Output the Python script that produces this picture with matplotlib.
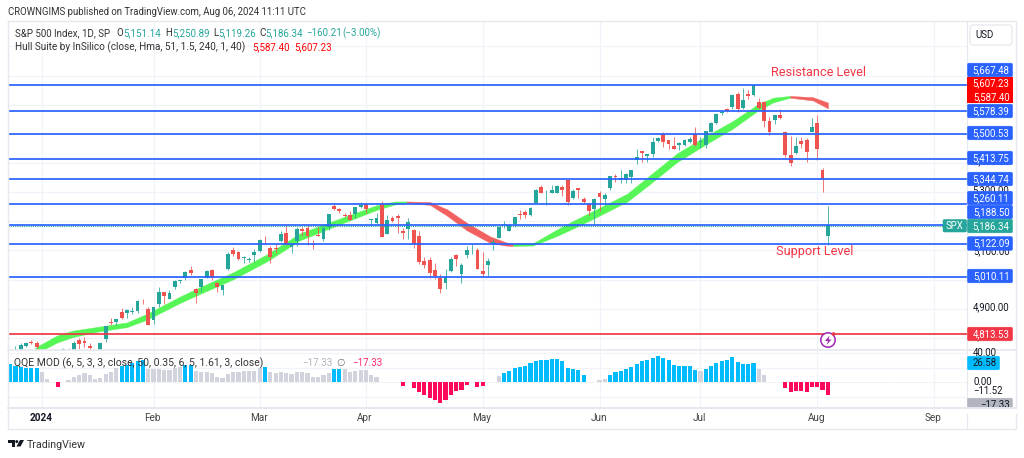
import matplotlib
matplotlib.use("Agg")
import matplotlib.pyplot as plt
from matplotlib.patches import Rectangle, FancyBboxPatch, Circle, Polygon

plt.rcParams['font.family'] = ['Roboto', 'DejaVu Sans']

# ---------- data ----------
opens = [4724,4753,4758,4773,4786,4782,
 4745,4726,4697,4690,4703,4741,4759,4792,4791,4772,4739,4760,4797,4853,4856,4888,4886,4888,4892,4925,4899,
 4861,4916,4957,4935,4973,4995,5004,5032,4968,4976,5006,5032,4989,4963,5038,5100,5093,5074,5067,5085,
 5098,5131,5110,5108,5132,5160,5111,5134,5174,5176,5123,5154,5140,5181,5253,5242,5220,5220,5226,5248,
 5258,5204,5194,5258,5158,5212,5217,5167,5172,5171,5150,5064,5068,5032,5006,4988,5028,5084,5019,5084,5114,5103,
 5029,5049,5122,5142,5187,5168,5189,5225,5233,5222,5263,5319,5303,5298,5298,5319,5340,5281,5315,5278,5259,5243,
 5297,5278,5314,5353,5343,5341,5353,5409,5441,5424,5431,5476,5499,5479,5459,5461,5460,5473,5499,
 5471,5461,5507,5537,5572,5584,5592,5636,5590,5638,5633,5610,5608,5544,5548,5565,5505,5429,5433,5476,5478,5505,
 5537,5376,5151.14]
highs = [4748,4772,4784,4785,4793,4788,
 4755,4729,4726,4721,4764,4765,4791,4798,4802,4782,4744,4785,4842,4868,4866,4903,4898,4906,4929,4932,4907,
 4907,4975,4957,4964,4999,5000,5030,5048,4971,5002,5033,5038,4993,4983,5094,5111,5098,5081,5077,5105,
 5140,5150,5114,5127,5165,5189,5125,5179,5179,5189,5136,5180,5180,5226,5261,5246,5229,5236,5249,5265,
 5264,5208,5229,5268,5222,5219,5224,5178,5211,5175,5168,5079,5077,5057,5020,5038,5078,5089,5057,5114,5123,5110,
 5096,5073,5139,5181,5200,5191,5215,5239,5238,5250,5311,5325,5306,5325,5324,5323,5342,5311,5315,5282,5260,5280,
 5303,5298,5354,5362,5375,5366,5376,5447,5442,5432,5488,5490,5506,5479,5490,5472,5483,5489,5524,
 5490,5510,5540,5570,5583,5590,5636,5642,5656,5650,5667.2,5622,5614,5557,5564,5586,5508,5491,5488,5488,5486,5554,
 5566,5383,5250.89]
lows = [4708,4736,4758,4768,4780,4751,
 4722,4699,4687,4683,4699,4730,4756,4739,4769,4740,4714,4740,4785,4844,4844,4865,4870,4881,4887,4917,4845,
 4847,4907,4918,4932,4969,4987,5000,5016,4920,4956,5006,4999,4956,4946,5033,5082,5068,5058,5059,5061,
 5094,5127,5057,5092,5128,5117,5092,5114,5151,5117,5104,5148,5131,5171,5240,5229,5216,5203,5213,5247,
 5229,5184,5190,5146,5157,5197,5160,5138,5138,5107,5052,5039,5007,5001,4954,4969,5027,5047,4990,5073,5089,5035,
 5013,5011,5101,5142,5178,5165,5180,5209,5211,5217,5263,5296,5256,5298,5297,5286,5257,5278,5280,5262,5222,5192,
 5234,5257,5306,5335,5331,5331,5331,5396,5403,5403,5420,5471,5455,5448,5447,5446,5459,5470,5459,
 5452,5453,5507,5532,5563,5574,5586,5574,5584,5618,5631,5584,5522,5497,5535,5551,5419,5390,5430,5451,5404,5505,
 5410,5302,5119.26]
closes = [4746.75,4754.63,4774.75,4781.58,4783.35,4769.83,
 4742.83,4704.81,4688.68,4697.24,4763.54,4756.50,4783.45,4780.24,4783.83,4765.98,4739.21,4780.94,4839.81,4850.43,4864.60,4868.55,4894.16,4890.97,4927.93,4924.97,4845.65,
 4906.19,4958.61,4942.81,4954.23,4995.06,4997.91,5026.61,5021.84,4953.17,5000.62,5029.73,5005.57,4975.51,4981.80,5087.03,5088.80,5069.53,5078.18,5069.76,5096.27,
 5137.08,5130.95,5078.65,5104.76,5157.36,5123.69,5117.94,5175.27,5165.31,5150.48,5117.09,5149.42,5178.51,5224.62,5241.53,5234.18,5218.19,5203.58,5248.49,5254.35,
 5243.77,5205.81,5211.49,5147.21,5204.34,5202.39,5209.91,5160.64,5199.06,5123.41,5061.82,5051.41,5022.21,5011.12,4967.23,5010.60,5070.55,5071.63,5048.42,5099.96,5116.17,5035.69,
 5018.39,5064.20,5127.79,5180.74,5187.70,5187.67,5214.08,5222.68,5221.42,5246.68,5308.15,5297.10,5303.27,5308.13,5321.41,5307.01,5267.84,5304.72,5306.04,5266.95,5235.48,5277.51,
 5283.40,5291.34,5354.03,5352.96,5346.99,5360.79,5375.32,5421.03,5433.74,5431.60,5473.23,5487.03,5473.17,5464.62,5447.87,5469.30,5477.90,5482.87,5460.48,
 5475.09,5509.01,5537.02,5567.19,5572.85,5576.98,5633.91,5584.54,5615.35,5631.22,5667.20,5588.27,5544.59,5505.00,5564.41,5555.74,5427.13,5399.22,5459.10,5463.54,5436.44,5522.30,
 5446.68,5346.56,5186.34]
first_bar = -6
assert len(opens) == len(highs) == len(lows) == len(closes) == 155

hull_idx = [-2,-0.75,2.8,5.8,10.9,16,19.8,26,29.2,36,42.4,48.6,56,63,66.5,68.7,
            73.1,76.3,80,84.4,87.2,88.7,
            92.5,97,100,105,110.2,114.5,119.6,125.2,130.1,134.7,137.7,140.9,
            145.2,148]
hull_mid = [4745,4761,4796,4814,4831,4845,4873,4931,4958,5013,5075,5147,5199,5247,5263,5266,
            5261,5230,5182,5137,5123,5118,
            5121,5161,5188,5233,5281,5343,5418,5480,5531,5589,5616,5627,
            5620,5597.3]
hull_half = [10,11,12,11,8,8,10,11,11.5,12,12,12,10,8,5,2,
             5,11,13,11,6,3,
             4,11,13,13.5,13.5,15,15,14,13,11,8,3,
             5.5,9.9]
hull_segments = [(0,15,'#55f655'),(15,21,'#f26060'),(21,33,'#55f655'),(33,35,'#f26060')]

blue_levels = [5667.48,5578.39,5500.53,5413.75,5344.74,5260.11,5188.50,5122.09,5010.11]
red_level = 4813.53
last_close = 5186.34
grid_prices = [4800,4900,5000,5100,5200,5300,5400,5500,5600,5700,5800]

month_idx = [0,21,41,61,83,105,124,146,168]
month_labels = ['2024','Feb','Mar','Apr','May','Jun','Jul','Aug','Sep']

qqe_values = [25,23,21.5,20,20,20,
 14.6,4.5,0,-6,0,3,7.5,10.5,12.4,10.5,5,6,11,14.6,19.7,
 23,24,27,28.9,30,
 18.8,18,18.3,17,17,19.7,21.5,24,24,
 16,14,14,12.4,7.8,6,11.5,14.6,14.6,15.6,15,16,19.7,21,
 14,13,14.6,12.4,11.5,13.7,13.7,12.4,7.3,7.8,9.6,13.3,18.8,18.8,
 18,14,15.6,17,17,10.5,7.8,0,0,0,0,
 -5,0,-8,-14,-18,-21,-24,-28,-25,-17,-11.5,-10.5,-3.7,0,-6,-4.6,0,0,
 8.7,12.4,15.6,19.2,21.5,22.4,26,29.8,30.7,30.7,31.6,32.5,29.3,20,18,17,10,0,0,
 3.2,5,10,14.6,15.6,18,21,25.6,29.3,30,33.4,35.7,33.4,30,23.4,22.4,22.4,22.4,17,
 15.6,18,22.4,26.6,28.9,31,34.4,28,25.6,24.7,26.6,18,9.6,0,0,0,
 -8,-14,-12,-11.5,-13,-7,-7,-11,-17.33]
assert len(qqe_values) == 155
qqe_gray = [0,1,5,6,7,8,9,10,11,12,13,14,20,21,22,23,24,25,26]+list(range(29,42))+list(range(43,55))+\
           list(range(57,64))+[86,105,106,124,135,136]

# ---------- pixel layout ----------
W, H = 1024, 458
PX_PER_BAR, X0 = 5.31, 42.0
U_PER_PX = 3.43
L, R, T, SEP, BOT, TAX = 8, 967, 21, 350, 407.5, 429
QZERO, QSCALE = 382.3, 0.727

def axes_rect(l, t, r, b):
    return [l/W, 1-b/H, (r-l)/W, (b-t)/H]

fig = plt.figure(figsize=(W/100, H/100), dpi=100, facecolor='white')
ax = fig.add_axes(axes_rect(L, T, R, SEP))
axq = fig.add_axes(axes_rect(L, SEP, R, BOT))
ov = fig.add_axes([0, 0, 1, 1], facecolor='none')
ov.set_xlim(0, W); ov.set_ylim(H, 0); ov.axis('off')

xlim = ((L-X0)/PX_PER_BAR, (R-X0)/PX_PER_BAR)
ax.set_xlim(*xlim)
ax.set_ylim(5667.48-(SEP-85)*U_PER_PX, 5667.48+(85-T)*U_PER_PX)
axq.set_xlim(*xlim)
axq.set_ylim((QZERO-BOT)/QSCALE, (QZERO-SEP)/QSCALE)
for a in (ax, axq):
    a.set_xticks([]); a.set_yticks([])
    for s in a.spines.values():
        s.set_visible(False)
    for m in month_idx:
        a.axvline(m, color='#f0f3fa', lw=0.9, zorder=0)
for p in grid_prices:
    ax.axhline(p, color='#f0f3fa', lw=0.9, zorder=0)
for v in (-20, 20, 40):
    axq.axhline(v, color='#f0f3fa', lw=0.9, zorder=0)
axq.axhline(0, color='#d8dbe3', lw=0.6, ls=(0, (1, 1.5)), zorder=0)

# hull band
for a, b, col in hull_segments:
    xs = hull_idx[a:b+1]
    up = [m+h for m, h in zip(hull_mid[a:b+1], hull_half[a:b+1])]
    lo = [m-h for m, h in zip(hull_mid[a:b+1], hull_half[a:b+1])]
    ax.fill_between(xs, lo, up, color=col, lw=0.3, zorder=2)

# candles
GREEN, RED = '#26a69a', '#ef5350'
for n, (o, h, l, c) in enumerate(zip(opens, highs, lows, closes)):
    i = first_bar+n
    col = GREEN if c >= o else RED
    ax.vlines(i, l, h, color=col, lw=0.7, alpha=0.8, zorder=3)
    ax.bar(i, max(abs(c-o), 2.5), bottom=min(o, c), width=0.72, color=col, lw=0, zorder=3)

# levels
for lv in blue_levels:
    ax.axhline(lv, color='#2962ff', lw=1.25, zorder=4)
ax.axhline(red_level, color='#f23645', lw=1.25, zorder=4)
ax.axhline(last_close-1.5, color=GREEN, lw=0.8, ls=(0, (1, 1)), zorder=3.5)

# QQE
for n, v in enumerate(qqe_values):
    i = first_bar+n
    if v == 0:
        continue
    col = '#ff0a5a' if v < 0 else ('#d1d4dc' if i in qqe_gray else '#00bcff')
    axq.bar(i, v, width=0.78, color=col, lw=0, zorder=2)

# frames
FR = '#e6e8ef'
ov.add_patch(Rectangle((R, T), 1016-R, TAX-T, fc='white', ec='none', zorder=1))
ov.add_patch(Rectangle((L, BOT), R-L, TAX-BOT, fc='white', ec='none', zorder=1))
ov.plot([L, 1016, 1016, L, L], [T, T, TAX, TAX, T], color=FR, lw=1.0, zorder=2)
ov.plot([L, 1016], [SEP, SEP], color=FR, lw=1.2, zorder=2)
ov.plot([L, 1016], [BOT, BOT], color=FR, lw=1.4, zorder=2)
ov.plot([R, R], [T, TAX], color=FR, lw=0.9, zorder=2)

TXT = '#131722'
FS = 7.0
def t(x, y, s, color='#333', fs=FS, ha='left', va='center', z=10, **kw):
    return ov.text(x, y, s, color=color, fontsize=fs, ha=ha, va=va, zorder=z, **kw)

t(8, 12, 'CROWNGIMS published on TradingView.com, Aug 06, 2024 11:11 UTC', fs=6.9)
t(15, 33, 'S&P 500 Index, 1D, SP')
t(116, 33, 'O'); t(123, 33, '5,151.14', GREEN)
t(165, 33, 'H'); t(172, 33, '5,250.89', GREEN)
t(213, 33, 'L'); t(218, 33, '5,119.26', GREEN)
t(259, 33, 'C'); t(265, 33, '5,186.34', GREEN)
t(306, 33, '\u2212160.21', GREEN); t(342, 33, '(\u22123.00%)', GREEN)
t(15, 47, 'Hull Suite by InSilico (close, Hma, 51, 1.5, 240, 1, 40)', fs=7.2)
t(252, 47, '5,587.40', '#ff0000'); t(294, 47, '5,607.23', '#ff0000')
t(14, 363, 'QQE MOD (6, 5, 3, 3, close, 50, 0.35, 6, 5, 1.61, 3, close)', fs=7.5)
t(302, 363, '\u221217.33', '#b2b5be')
t(336, 363, '\u2205', '#777')
t(352, 363, '\u221217.33', '#ff2a70')

t(771, 72, 'Resistance Level', '#f23645', fs=9.2)
t(776, 251, 'Support Level', '#f23645', fs=9.2)

# time axis
for m, lab in zip(month_idx, month_labels):
    t(X0+PX_PER_BAR*m-1, 418, lab, '#444' if lab != '2024' else TXT, ha='center',
      fontweight='bold' if lab == '2024' else 'normal', fs=7.2)

# price tick labels that show between the boxes
for y, lab in [(161,'5,400.00'),(190,'5,300.00'),(251,'5,100.00'),(307,'4,900.00'),(336,'4,800.00')]:
    t(1009.5, y, lab, TXT, ha='right', z=3, fs=6.9)
t(973, 353, '40.00', TXT, z=3, fs=6.9)
t(973, 382, '0.00', TXT, z=3, fs=6.9)
ov.add_patch(Rectangle((R+0.5, 384.5), 46, 13, fc='white', ec='none', zorder=4))
t(973, 391, '\u221211.52', TXT, z=5, fs=6.9)

def box(y, lab, fc, tc='white', x0=R, x1=1013, z=6):
    ov.add_patch(FancyBboxPatch((x0+0.5, y-6.8), x1-x0-1, 13.6, boxstyle='round,pad=0,rounding_size=1.5',
                                fc=fc, ec=fc, lw=0.4, zorder=z))
    t(x1-3.5, y, lab, tc, ha='right', z=z+1, fs=6.9)

box(405, '\u221217.33', '#b2b5be', TXT)
ov.add_patch(Rectangle((R, 408), 50, 6, fc='white', ec='none', zorder=8))
ov.plot([R, 1016], [BOT, BOT], color=FR, lw=1.4, zorder=9)
box(363, '26.58', '#00bcff', TXT, x1=1000)
for y, lab in [(70,'5,667.48'),(111,'5,578.39'),(133,'5,500.53'),(158,'5,413.75'),(179,'5,344.74'),
               (198,'5,260.11'),(212,'5,188.50'),(243.5,'5,122.09'),(276,'5,010.11')]:
    box(y, lab, '#2962ff')
ov.add_patch(Rectangle((R, 77), 46, 26, fc='#ff0000', ec='none', zorder=6))
t(1009.5, 83.5, '5,607.23', 'white', ha='right', z=8, fs=6.9)
t(1009.5, 97, '5,587.40', 'white', ha='right', z=8, fs=6.9)
box(226, '5,186.34', GREEN)
box(334, '4,813.53', '#f23645')
ov.add_patch(FancyBboxPatch((943, 219.5), 23.5, 12.5, boxstyle='round,pad=0,rounding_size=1.5',
                            fc=GREEN, ec=GREEN, lw=0.4, zorder=6))
t(954.5, 226, 'SPX', 'white', ha='center', z=7, fs=6.9)

# currency button
ov.add_patch(FancyBboxPatch((970, 25), 42, 20, boxstyle='round,pad=0,rounding_size=3',
                            fc='white', ec='#e6e8ef', lw=0.9, zorder=6))
t(985, 35, 'USD', TXT, ha='center', z=7, fs=6.9)

# flash icon
ov.add_patch(Circle((828, 340), 7.2, fc='white', ec='#9c27b0', lw=1.1, zorder=7))
ov.add_patch(Polygon([(829.5,335.5),(825,341),(828,341),(826.5,345),(831.5,339.5),(828.5,339.5)], fc='#9c27b0', ec='none', zorder=8))
ov.add_patch(Circle((833.5, 334), 1.8, fc='#f23645', ec='none', zorder=9))

# logo and footer
ov.add_patch(Polygon([(8,440),(15,440),(15,446.5),(11.5,446.5),(11.5,443),(8,443)], fc='#131722', ec='none', zorder=7))
ov.add_patch(Circle((16.8,441.6), 1.5, fc='#131722', ec='none', zorder=7))
ov.add_patch(Polygon([(20,440),(24,440),(20.5,446.5),(16.5,446.5)], fc='#131722', ec='none', zorder=7))
t(27, 444.5, 'TradingView', '#333', fs=7.7)

fig.savefig('out.png', dpi=100)
